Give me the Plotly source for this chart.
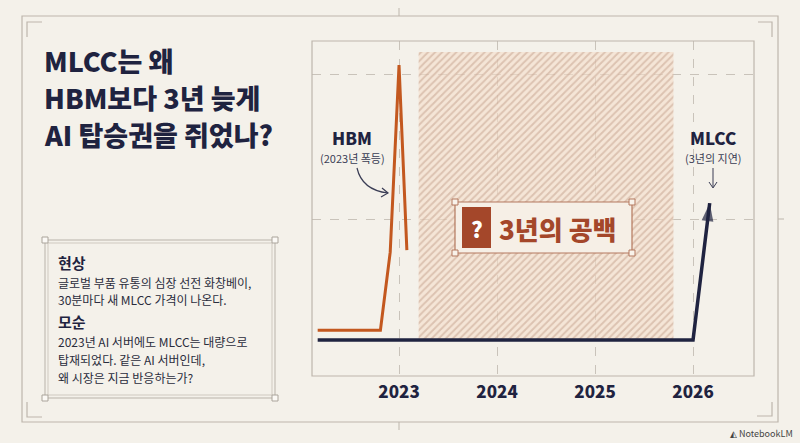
import plotly.graph_objects as go

# ---- data ----
years = [2023, 2024, 2025, 2026]
year_labels = ["2023", "2024", "2025", "2026"]

hbm_x = [2022.17, 2022.81, 2022.91, 2023.0, 2023.08]
hbm_y = [11.7, 11.7, 38.6, 103.1, 39.3]

mlcc_x = [2022.17, 2026.0, 2026.17]
mlcc_y = [8.3, 8.3, 55.5]

gap_x = [2023.2, 2025.8]
gap_y = [8.6, 107.6]

title_lines = ["MLCC는 왜", "HBM보다 3년 늦게", "AI 탑승권을 쥐었나?"]
box_head1 = "현상"
box_text1 = ["글로벌 부품 유통의 심장 선전 화창베이,", "30분마다 새 MLCC 가격이 나온다."]
box_head2 = "모순"
box_text2 = ["2023년 AI 서버에도 MLCC는 대량으로", "탑재되었다. 같은 AI 서버인데,", "왜 시장은 지금 반응하는가?"]

NAVY = "#1f2340"
ORANGE = "#c3581f"
BROWN = "#a4472a"
BG = "#f4f1ea"
FRAME = "#bdb6ac"
FONT = "Noto Sans CJK KR"

# plot area in pixels
PL, PT, PR, PB = 312, 41, 754, 376


def px(x):
    return (x - PL) / (PR - PL)


def py(y):
    return (PB - y) / (PB - PT)


fig = go.Figure()

# hatched "gap" area
fig.add_trace(go.Scatter(
    x=[gap_x[0], gap_x[1], gap_x[1], gap_x[0], gap_x[0]],
    y=[gap_y[0], gap_y[0], gap_y[1], gap_y[1], gap_y[0]],
    mode="lines", line=dict(width=0), fill="toself",
    fillcolor="rgba(0,0,0,0)",
    fillpattern=dict(shape="/", fgcolor="#c4a08c", bgcolor="rgba(245,222,202,0.6)",
                     size=5, solidity=0.4),
    hoverinfo="skip", showlegend=False))

fig.add_trace(go.Scatter(
    x=mlcc_x, y=mlcc_y, mode="lines+markers",
    line=dict(color=NAVY, width=3.5),
    marker=dict(symbol=["circle", "circle", "arrow"], size=[0, 0, 19],
                angleref="previous", color=NAVY, line=dict(width=0)),
    showlegend=False, name="MLCC"))

fig.add_trace(go.Scatter(
    x=hbm_x, y=hbm_y, mode="lines",
    line=dict(color=ORANGE, width=3),
    showlegend=False, name="HBM"))

shapes = []


def line(x0, y0, x1, y1, color=FRAME, width=1):
    shapes.append(dict(type="line", xref="paper", yref="paper",
                       x0=px(x0), y0=py(y0), x1=px(x1), y1=py(y1),
                       line=dict(color=color, width=width)))


def rect(x0, y0, x1, y1, color=FRAME, width=1, fill="rgba(0,0,0,0)"):
    shapes.append(dict(type="rect", xref="paper", yref="paper",
                       x0=px(x0), y0=py(y0), x1=px(x1), y1=py(y1),
                       line=dict(color=color, width=width), fillcolor=fill))


def path(pts, color, width=1.2):
    d = "M " + " L ".join(f"{px(a)},{py(b)}" for a, b in pts)
    shapes.append(dict(type="path", xref="paper", yref="paper", path=d,
                       line=dict(color=color, width=width)))


# outer frame + decorations
rect(22, 16, 778, 422, width=1.2)
line(399, 8, 399, 16)
line(399, 422, 399, 430)
line(778, 219, 784, 219)
path([(27, 37), (27, 22), (42, 22)], FRAME)
path([(758, 22), (772, 22), (772, 37)], FRAME)
path([(27, 402), (27, 417), (42, 417)], FRAME)
path([(757, 416), (772, 416), (772, 402)], FRAME)

# plot box
rect(PL, PT, PR, PB, width=1.2)

# left info box (double line)
rect(45, 240, 275, 398, color="#b9b3aa", width=1)
rect(48, 243, 272, 395, color="#cfc9c0", width=1)
for cx, cy in [(45, 240), (275, 240), (45, 398), (275, 398)]:
    rect(cx - 3, cy - 3, cx + 3, cy + 3, color="#aaa49b", width=1, fill="#fbf9f5")

# "3년의 공백" label box
rect(455, 202, 632, 253, color="#b4785e", width=1.2, fill="#f6efe6")
for cx, cy in [(455, 202), (632, 202), (455, 253), (632, 253)]:
    rect(cx - 3, cy - 3, cx + 3, cy + 3, color="#b4785e", width=1, fill="#f8f2ea")
rect(462, 207, 491, 248, color=BROWN, width=0, fill=BROWN)

# curved arrow HBM
shapes.append(dict(type="path", xref="paper", yref="paper",
                   path=f"M {px(357)},{py(168)} Q {px(362)},{py(190)} {px(388)},{py(193)}",
                   line=dict(color="#3a3d55", width=1.2)))
path([(382, 188), (388, 193), (381, 197)], "#3a3d55")
# straight arrow MLCC
line(713, 168, 713, 187, color="#3a3d55", width=1)
path([(709, 182), (713, 188), (717, 182)], "#3a3d55", width=1)

annotations = []


def text(x, y, s, size, color=NAVY, weight=400, xanchor="left"):
    annotations.append(dict(xref="paper", yref="paper", x=px(x), y=py(y), text=s,
                            showarrow=False, xanchor=xanchor, yanchor="middle",
                            borderpad=0,
                            font=dict(family=FONT, size=size, color=color, weight=weight)))


for i, s in enumerate(title_lines):
    text(43, 61 + i * 36.5, s, 27, weight=900)

text(57, 262, box_head1, 15, weight=700)
for i, s in enumerate(box_text1):
    text(57, 282 + i * 17.5, s, 12, color="#2a2c3c")
text(57, 321, box_head2, 15, weight=700)
for i, s in enumerate(box_text2):
    text(57, 341 + i * 18, s, 12, color="#2a2c3c")

text(352, 137, "HBM", 17, weight=800, xanchor="center")
text(352, 157.5, "(2023년 폭등)", 11, color="#3a3d55", xanchor="center")
text(713, 137, "MLCC", 17, weight=800, xanchor="center")
text(713, 157.5, "(3년의 지연)", 11, color="#3a3d55", xanchor="center")

text(476.5, 228, "?", 22, color="white", weight=800, xanchor="center")
text(557, 228, "3년의 공백", 26, color=BROWN, weight=800, xanchor="center")

text(794, 433, "◭ NotebookLM", 9, color="#444444", xanchor="right")

fig.update_layout(
    width=800, height=443,
    margin=dict(l=PL, r=800 - PR, t=PT, b=443 - PB),
    paper_bgcolor=BG, plot_bgcolor=BG,
    shapes=shapes, annotations=annotations,
    xaxis=dict(range=[2022.112, 2026.622], tickvals=years, ticktext=year_labels,
               showgrid=True, gridcolor="#c9c3ba", griddash="dash", gridwidth=1,
               zeroline=False, showline=False, ticks="",
               tickfont=dict(family=FONT, size=17, color=NAVY, weight=800),
               ticklabelstandoff=4),
    yaxis=dict(range=[-4.1, 111.4], tickvals=[50, 100], showticklabels=False,
               showgrid=True, gridcolor="#c9c3ba", griddash="dash", gridwidth=1,
               zeroline=False, showline=False, ticks=""),
)

fig.write_html("out.html", config={"displayModeBar": False},
               post_script="document.body.style.margin='0';")
